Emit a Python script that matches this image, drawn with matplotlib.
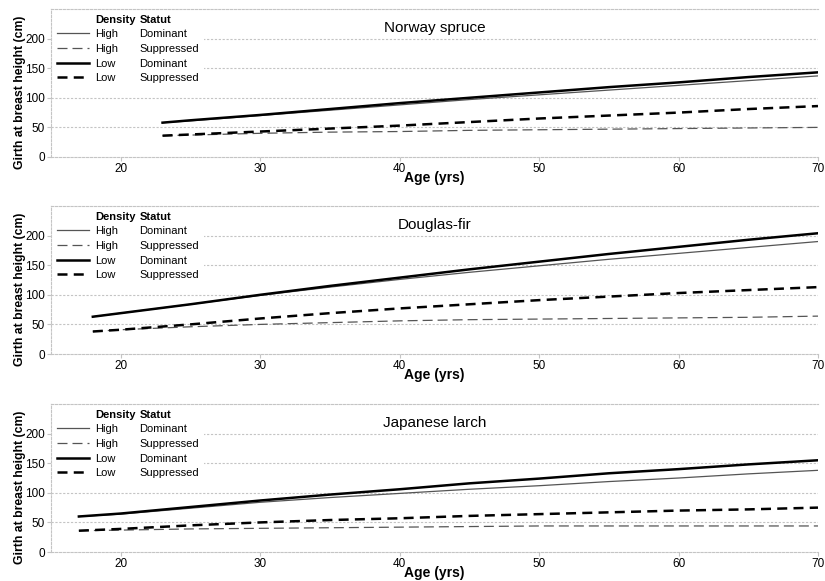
import numpy as np
import matplotlib
matplotlib.use("Agg")
import matplotlib.pyplot as plt
from matplotlib.lines import Line2D

plt.rcParams["font.family"] = ["Liberation Sans", "DejaVu Sans"]

# ------------------------------------------------------------
# DATA
# ------------------------------------------------------------
species = ["Norway spruce", "Douglas-fir", "Japanese larch"]

ns_age = [23, 25, 30, 35, 40, 45, 50, 55, 60, 65, 70]
ns_high_dom = [58, 61, 70, 79, 88, 97, 105, 113, 121, 129, 137]
ns_high_sup = [36, 37, 40, 42, 43, 45, 46, 47, 48, 49, 50]
ns_low_dom = [58, 62, 71, 81, 91, 100, 109, 118, 126, 135, 143]
ns_low_sup = [36, 38, 43, 48, 53, 59, 65, 70, 75, 81, 86]

df_age = [18, 20, 25, 30, 35, 40, 45, 50, 55, 60, 65, 70]
df_high_dom = [63, 69, 84, 99, 113, 126, 138, 149, 160, 170, 180, 190]
df_high_sup = [38, 41, 46, 50, 53, 56, 58, 59, 60, 61, 62, 64]
df_low_dom = [63, 69, 84, 100, 115, 129, 143, 156, 169, 181, 193, 204]
df_low_sup = [38, 41, 50, 60, 69, 77, 84, 91, 97, 103, 108, 113]

jl_age = [17, 20, 25, 30, 35, 40, 45, 50, 55, 60, 65, 70]
jl_high_dom = [60, 64, 74, 84, 92, 99, 106, 112, 119, 125, 132, 138]
jl_high_sup = [36, 37, 39, 40, 41, 42, 43, 44, 44, 44, 44, 44]
jl_low_dom = [60, 65, 76, 87, 97, 106, 116, 124, 133, 140, 148, 155]
jl_low_sup = [36, 39, 45, 50, 54, 57, 61, 64, 67, 70, 72, 75]

densities = ["High", "High", "Low", "Low"]
statuts = ["Dominant", "Suppressed", "Dominant", "Suppressed"]

x_ticks = [20, 30, 40, 50, 60, 70]
y_ticks = [0, 50, 100, 150, 200]

# ------------------------------------------------------------
# STYLES
# ------------------------------------------------------------
styles = [
    dict(color="#555555", lw=0.9, linestyle="-"),
    dict(color="#555555", lw=0.9, linestyle=(0, (8, 4))),
    dict(color="black", lw=1.8, linestyle="-"),
    dict(color="black", lw=1.8, linestyle=(0, (4, 2.5))),
]

panels = [
    (ns_age, [ns_high_dom, ns_high_sup, ns_low_dom, ns_low_sup]),
    (df_age, [df_high_dom, df_high_sup, df_low_dom, df_low_sup]),
    (jl_age, [jl_high_dom, jl_high_sup, jl_low_dom, jl_low_sup]),
]

fig = plt.figure(figsize=(8.25, 5.81), dpi=100)
bottoms = [0.7298, 0.3907, 0.0499]
grid_col = "#c4c4c4"

for i, (nombre, (edades, series)) in enumerate(zip(species, panels)):
    ax = fig.add_axes([0.0618, bottoms[i], 0.9297, 0.2547])
    for valores, st in zip(series, styles):
        ax.plot(edades, valores, **st, zorder=3)

    ax.set_xlim(15, 70)
    ax.set_ylim(0, 250)
    ax.set_xticks(x_ticks)
    ax.set_yticks(y_ticks)
    ax.tick_params(labelsize=8.5, length=3, color=grid_col, pad=1.5)
    for y in [50, 100, 150, 200]:
        ax.axhline(y, color=grid_col, lw=0.8, linestyle=(0, (2, 1.5)), zorder=1)
    for s in ["top", "left", "bottom"]:
        ax.spines[s].set_color(grid_col)
        ax.spines[s].set_linestyle((0, (2, 1.5)))
        ax.spines[s].set_linewidth(0.8)
    ax.spines["right"].set_visible(False)

    ax.set_xlabel("Age (yrs)", fontsize=10, fontweight="bold", labelpad=-3)
    ax.set_ylabel("Girth at breast height (cm)", fontsize=8.8, fontweight="bold", labelpad=-1)
    ax.yaxis.label.set_y(0.44)
    ax.text(0.5, 0.87, nombre, transform=ax.transAxes, ha="center", va="center", fontsize=11)

    # legend: two text columns (Density / Statut)
    blank = Line2D([], [], color="none")
    handles = [blank] + [Line2D([], [], **st) for st in styles] + [blank] * 5
    labels = ["Density"] + densities + ["Statut"] + statuts
    leg = ax.legend(handles, labels, ncol=2, loc="upper left", bbox_to_anchor=(0, 1),
                    fontsize=8, frameon=True, facecolor="white", edgecolor="none",
                    framealpha=1, fancybox=False, borderaxespad=0.0, borderpad=0.5,
                    handlelength=2.9, handletextpad=0.55, columnspacing=-3.1,
                    labelspacing=0.42)
    leg.set_zorder(2)
    leg.get_texts()[0].set_fontweight("bold")
    leg.get_texts()[5].set_fontweight("bold")

fig.savefig("out.png", dpi=100)
